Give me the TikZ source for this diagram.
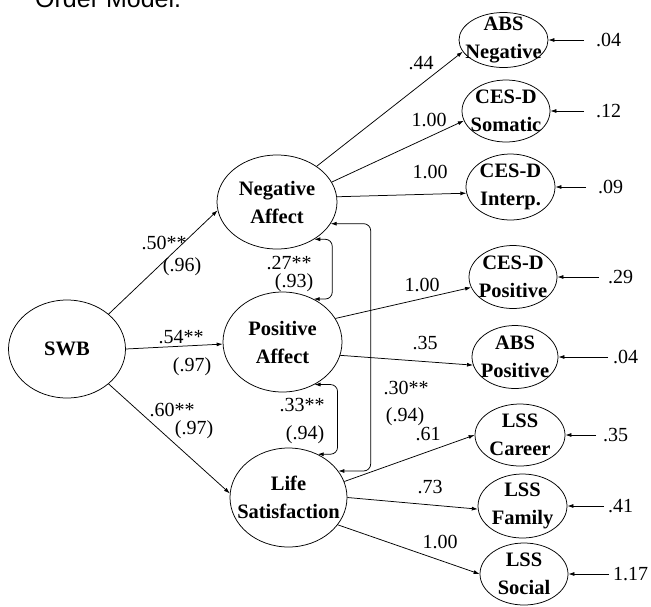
\documentclass[tikz,border=0pt]{standalone}
\usepackage{fontspec}
\setmainfont{Liberation Serif}
\newfontfamily\headfont{Liberation Sans}
\usepackage{tikz}
\usetikzlibrary{arrows.meta}
\tikzset{>={Latex[length=6pt,width=4pt]}}
\usetikzlibrary{shapes.geometric}
\tikzset{
  latent/.style={ellipse, draw, line width=0.75pt, inner sep=0pt},
  vartext/.style={font=\fontsize{20.5}{28}\selectfont\bfseries, align=center, inner sep=0pt},
  coef/.style={font=\fontsize{20}{22}\selectfont, inner sep=1pt},
  link/.style={->, line width=0.75pt},
  cov/.style={<->, line width=0.75pt, rounded corners=7pt},
}

\begin{document}
\begin{tikzpicture}[x=1pt, y=-1pt]
    \useasboundingbox (0,0) rectangle (651,606);
    \clip (0,0) rectangle (651,606);
    \node[anchor=base west, inner sep=0pt, font=\headfont\fontsize{25}{28}\selectfont] (title) at (35,7) {Order Model.};
    % factors
    \node[latent, minimum width=117pt, minimum height=98pt, label={[vartext]center:SWB}] (swb) at (67,349) {};
    \node[latent, minimum width=120pt, minimum height=94pt, label={[vartext]center:{Negative\\Affect}}] (neg) at (277,202) {};
    \node[latent, minimum width=119pt, minimum height=100pt, label={[vartext]center:{Positive\\Affect}}] (pos) at (282.5,342) {};
    \node[latent, minimum width=117pt, minimum height=99pt, label={[vartext]center:{Life\\Satisfaction}}] (life) at (288.5,497.5) {};
    % indicators
    \node[latent, minimum width=89pt, minimum height=55pt, label={[vartext]center:{ABS\\Negative}}] (absneg) at (503.5,40) {};
    \node[latent, minimum width=88pt, minimum height=62pt, label={[vartext]center:{CES-D\\Somatic}}] (somatic) at (506,111) {};
    \node[latent, minimum width=89pt, minimum height=66pt, label={[vartext]center:{CES-D\\Interp.}}] (interp) at (510.5,187) {};
    \node[latent, minimum width=88pt, minimum height=63pt, label={[vartext]center:{CES-D\\Positive}}] (cesdpos) at (513,277) {};
    \node[latent, minimum width=86pt, minimum height=63pt, label={[vartext]center:{ABS\\Positive}}] (abspos) at (515,357) {};
    \node[latent, minimum width=90pt, minimum height=62pt, label={[vartext]center:{LSS\\Career}}] (career) at (520,435) {};
    \node[latent, minimum width=89pt, minimum height=64pt, label={[vartext]center:{LSS\\Family}}] (family) at (522.5,506) {};
    \node[latent, minimum width=88pt, minimum height=62pt, label={[vartext]center:{LSS\\Social}}] (social) at (524,574) {};
    % structural paths
    \draw[link] (swb.40) -- (neg.188);
    \draw[link] (swb.0) -- (pos.182);
    \draw[link] (swb.-40) -- (life.176);
    \node[coef] (b1) at (164,243) {.50**};
    \node[coef] (s1) at (182,267) {(.96)};
    \node[coef] (b2) at (181,337) {.54**};
    \node[coef] (s2) at (192,367) {(.97)};
    \node[coef] (b3) at (172,410) {.60**};
    \node[coef] (s3) at (194,430) {(.97)};
    % covariances
    \draw[cov] (neg.-45) -- ++(18,0) |- (pos.54);
    \draw[cov] (pos.-53) -- ++(23,0) |- (life.56);
    \draw[cov] (neg.-22) -- ++(40,0) |- (life.28);
    \node[coef] (c1) at (289,263) {.27**};
    \node[coef] (d1) at (294,283) {(.93)};
    \node[coef] (c2) at (302,405) {.33**};
    \node[coef] (d2) at (305,435) {(.94)};
    \node[coef] (c3) at (406,388) {.30**};
    \node[coef] (d3) at (405,417) {(.94)};
    % loadings
    \draw[link] (neg.42) -- (absneg.196);
    \draw[link] (neg.20) -- (somatic.193);
    \draw[link] (neg.5) -- (interp.188);
    \draw[link] (pos.24) -- (cesdpos.194);
    \draw[link] (pos.-13) -- (abspos.191);
    \draw[link] (life.16) -- (career.180);
    \draw[link] (life.0) -- (family.184);
    \draw[link] (life.-29) -- (social.180);
    \node[coef] (l1) at (421,63) {.44};
    \node[coef] (l2) at (429,120) {1.00};
    \node[coef] (l3) at (430,172) {1.00};
    \node[coef] (l4) at (422,285) {1.00};
    \node[coef] (l5) at (425,343) {.35};
    \node[coef] (l6) at (428,434) {.61};
    \node[coef] (l7) at (430,487) {.73};
    \node[coef] (l8) at (440,542) {1.00};
    % residuals
    \node[coef, anchor=west] (e1) at (595,40) {.04};
    \node[coef, anchor=west] (e2) at (595,111) {.12};
    \node[coef, anchor=west] (e3) at (597,187) {.09};
    \node[coef, anchor=west] (e4) at (607,277) {.29};
    \node[coef, anchor=west] (e5) at (612,357) {.04};
    \node[coef, anchor=west] (e6) at (602,435) {.35};
    \node[coef, anchor=west] (e7) at (607,506) {.41};
    \node[coef, anchor=west] (e8) at (612,574) {1.17};
    \draw[link, shorten <=11pt] (e1) -- (absneg);
    \draw[link, shorten <=11pt] (e2) -- (somatic);
    \draw[link, shorten <=11pt] (e3) -- (interp);
    \draw[link, shorten <=8pt] (e4) -- (cesdpos);
    \draw[link, shorten <=4pt] (e5) -- (abspos);
    \draw[link, shorten <=6pt] (e6) -- (career);
    \draw[link, shorten <=3pt] (e7) -- (family);
    \draw[link, shorten <=3pt] (e8) -- (social);
\end{tikzpicture}
\end{document}
